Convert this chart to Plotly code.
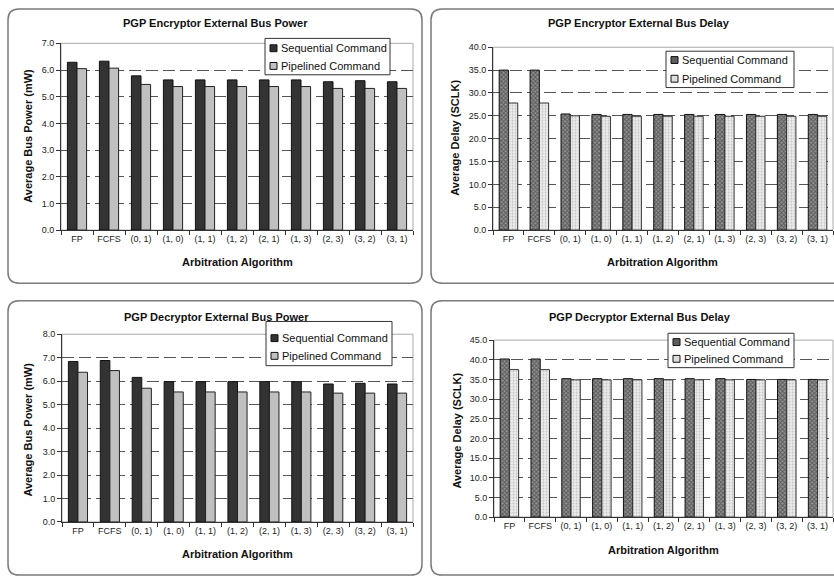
import plotly.graph_objects as go

W, H = 834, 581

categories = ["FP", "FCFS", "(0, 1)", "(1, 0)", "(1, 1)", "(1, 2)", "(2, 1)", "(1, 3)", "(2, 3)", "(3, 2)", "(3, 1)"]

enc_power_seq = [6.29, 6.33, 5.78, 5.63, 5.63, 5.63, 5.63, 5.63, 5.56, 5.60, 5.56]
enc_power_pip = [6.05, 6.07, 5.46, 5.38, 5.38, 5.38, 5.38, 5.38, 5.31, 5.31, 5.31]

enc_delay_seq = [35.0, 35.0, 25.4, 25.3, 25.3, 25.3, 25.3, 25.3, 25.3, 25.3, 25.3]
enc_delay_pip = [27.8, 27.8, 25.0, 24.9, 24.9, 24.9, 24.9, 24.9, 24.9, 24.9, 24.9]

dec_power_seq = [6.84, 6.88, 6.16, 5.98, 5.98, 5.98, 5.98, 5.98, 5.88, 5.91, 5.88]
dec_power_pip = [6.38, 6.45, 5.70, 5.54, 5.54, 5.54, 5.54, 5.54, 5.49, 5.49, 5.49]

dec_delay_seq = [40.2, 40.2, 35.2, 35.2, 35.2, 35.2, 35.2, 35.2, 35.0, 35.0, 35.0]
dec_delay_pip = [37.5, 37.5, 34.9, 34.9, 34.9, 34.9, 34.9, 34.9, 34.9, 34.9, 34.9]

series_names = ["Sequential Command", "Pipelined Command"]
titles = ["PGP Encryptor External Bus Power", "PGP Encryptor External Bus Delay",
          "PGP Decryptor External Bus Power", "PGP Decryptor External Bus Delay"]
y_titles = ["Average Bus Power (mW)", "Average Delay (SCLK)",
            "Average Bus Power (mW)", "Average Delay (SCLK)"]
x_title = "Arbitration Algorithm"

FONT = "Liberation Sans, Arial, sans-serif"


def fx(px):
    return px / W


def fy(py):
    return 1 - py / H


# panel plot-area pixel boxes (left, top, right, bottom)
panels = [
    dict(box=(61, 39, 413, 229), rng=[0, 7], dtick=1, data=(enc_power_seq, enc_power_pip), kind="power",
         title_xy=(215, 18), xt_xy=(237, 262), yt_xy=(28, 133), legend_box=(265, 34, 390, 71), rows=(44, 62)),
    dict(box=(493, 43, 833, 229), rng=[0, 40], dtick=5, data=(enc_delay_seq, enc_delay_pip), kind="delay",
         title_xy=(639, 18), xt_xy=(662, 262), yt_xy=(455, 135), legend_box=(666, 47, 794, 84), rows=(56, 75)),
    dict(box=(62, 335, 413, 526), rng=[0, 8], dtick=1, data=(dec_power_seq, dec_power_pip), kind="power",
         title_xy=(216, 317), xt_xy=(237, 559), yt_xy=(28, 432), legend_box=(266, 322, 392, 367), rows=(339, 357)),
    dict(box=(494, 341, 833, 521), rng=[0, 45], dtick=5, data=(dec_delay_seq, dec_delay_pip), kind="delay",
         title_xy=(640, 317), xt_xy=(663, 555), yt_xy=(457, 433), legend_box=(668, 334, 794, 369), rows=(343, 360)),
]

fig = go.Figure()
annotations = []
shapes = []
layout_axes = {}

for i, p in enumerate(panels):
    n = i + 1
    xa = "x" if n == 1 else f"x{n}"
    ya = "y" if n == 1 else f"y{n}"
    seq, pip = p["data"]
    if p["kind"] == "power":
        m_seq = dict(color="#333333", line=dict(color="#111111", width=1))
        m_pip = dict(color="#c0c0c0", line=dict(color="#222222", width=1))
        sw = ["#333333", "#c0c0c0"]
    else:
        m_seq = dict(color="#7a7a7a", line=dict(color="#111111", width=1),
                     pattern=dict(shape="x", fgcolor="#1e1e1e", bgcolor="#929292", size=3, solidity=0.55))
        m_pip = dict(color="#e6e6e6", line=dict(color="#333333", width=1),
                     pattern=dict(shape=".", fgcolor="#9a9a9a", bgcolor="#ececec", size=3, solidity=0.3))
        sw = ["#5e5e5e", "#dedede"]
    fig.add_trace(go.Bar(x=categories, y=seq, name=series_names[0], marker=m_seq,
                         xaxis=xa, yaxis=ya, showlegend=False))
    fig.add_trace(go.Bar(x=categories, y=pip, name=series_names[1], marker=m_pip,
                         xaxis=xa, yaxis=ya, showlegend=False))

    l, t, r, b = p["box"]
    xkey = "xaxis" if n == 1 else f"xaxis{n}"
    ykey = "yaxis" if n == 1 else f"yaxis{n}"
    layout_axes[xkey] = dict(
        domain=[fx(l), fx(r)], anchor=ya, type="category", tickangle=0,
        showline=True, linecolor="#333333", linewidth=1,
        ticks="outside", tickson="boundaries", ticklen=4, tickcolor="#333333",
        tickfont=dict(family=FONT, size=9, color="#222222"),
        showgrid=False, fixedrange=True,
    )
    layout_axes[ykey] = dict(
        domain=[fy(b), fy(t)], anchor=xa, range=p["rng"], dtick=p["dtick"], tickformat=".1f",
        showline=True, linecolor="#333333", linewidth=1,
        ticks="outside", ticklen=4, tickcolor="#333333",
        tickfont=dict(family=FONT, size=9, color="#222222"),
        showgrid=True, gridcolor="#555555", gridwidth=1, griddash="12px,5px",
        zeroline=False, fixedrange=True,
    )
    # plot area frame (light gray)
    shapes.append(dict(type="rect", xref=f"{xa} domain", yref=f"{ya} domain",
                       x0=0, x1=1, y0=0, y1=1, line=dict(color="#aaaaaa", width=1),
                       layer="below"))
    # titles
    tx, ty = p["title_xy"]
    annotations.append(dict(text=f"<b>{titles[i]}</b>", x=fx(tx), y=fy(ty), xref="paper", yref="paper",
                            xanchor="center", yanchor="middle", showarrow=False,
                            font=dict(family=FONT, size=11, color="#111111")))
    ax_, ay_ = p["xt_xy"]
    annotations.append(dict(text=f"<b>{x_title}</b>", x=fx(ax_), y=fy(ay_), xref="paper", yref="paper",
                            xanchor="center", yanchor="middle", showarrow=False,
                            font=dict(family=FONT, size=11, color="#111111")))
    yx, yy = p["yt_xy"]
    annotations.append(dict(text=f"<b>{y_titles[i]}</b>", x=fx(yx), y=fy(yy), xref="paper", yref="paper",
                            xanchor="center", yanchor="middle", showarrow=False, textangle=-90,
                            font=dict(family=FONT, size=11, color="#111111")))
    # legend box (drawn manually to match the compact Excel-style legend)
    L, T, R, B = p["legend_box"]
    shapes.append(dict(type="rect", xref="paper", yref="paper", x0=fx(L), x1=fx(R), y0=fy(B), y1=fy(T),
                       fillcolor="white", line=dict(color="#333333", width=1), layer="above"))
    for k, ry in enumerate(p["rows"]):
        shapes.append(dict(type="rect", xref="paper", yref="paper",
                           x0=fx(L + 5), x1=fx(L + 12), y0=fy(ry + 3.5), y1=fy(ry - 3.5),
                           fillcolor=sw[k], line=dict(color="#111111", width=1), layer="above"))
        annotations.append(dict(text=series_names[k], x=fx(L + 14), y=fy(ry), xref="paper", yref="paper",
                                xanchor="left", yanchor="middle", showarrow=False,
                                font=dict(family=FONT, size=11, color="#111111")))


def rounded_path(x0, y0, x1, y1, r):
    rx, ry = r / W, r / H
    X0, X1 = fx(x0), fx(x1)
    Y0, Y1 = fy(y0), fy(y1)  # Y0 top (larger), Y1 bottom
    return (f"M{X0+rx},{Y0} L{X1-rx},{Y0} Q{X1},{Y0} {X1},{Y0-ry} "
            f"L{X1},{Y1+ry} Q{X1},{Y1} {X1-rx},{Y1} L{X0+rx},{Y1} "
            f"Q{X0},{Y1} {X0},{Y1+ry} L{X0},{Y0-ry} Q{X0},{Y0} {X0+rx},{Y0} Z")


for (x0, y0, x1, y1) in [(8, 4, 422, 283), (431, 4, 860, 283), (8, 301, 422, 580), (431, 301, 860, 580)]:
    shapes.append(dict(type="path", xref="paper", yref="paper", path=rounded_path(x0, y0, x1, y1, 11),
                       line=dict(color="#7a7a7a", width=1.5), layer="below"))

fig.update_layout(
    width=W, height=H, autosize=False,
    margin=dict(l=0, r=0, t=0, b=0),
    paper_bgcolor="white", plot_bgcolor="white",
    barmode="group", bargap=0.4, bargroupgap=0,
    showlegend=False,
    annotations=annotations, shapes=shapes,
    font=dict(family=FONT, color="#111111"),
    **layout_axes,
)

fig.write_html("out.html", config={"displayModeBar": False},
               post_script="document.body.style.margin='0';")
